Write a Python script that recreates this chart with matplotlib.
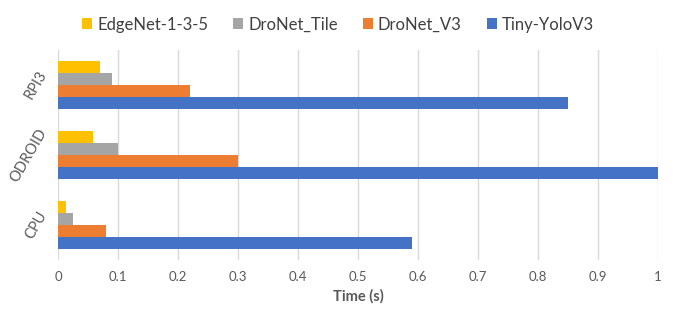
import numpy as np
import matplotlib.pyplot as plt

plt.rcParams['font.family'] = ['Lato', 'DejaVu Sans']

# datos
dispositivos = ['CPU', 'ODROID', 'RPI3']
series = ['EdgeNet-1-3-5', 'DroNet_Tile', 'DroNet_V3', 'Tiny-YoloV3']
edgenet = [0.014, 0.058, 0.07]
dronet_tile = [0.025, 0.10, 0.09]
dronet_v3 = [0.08, 0.30, 0.22]
tiny_yolo = [0.59, 1.0, 0.85]
colores = ['#FFC000', '#A5A5A5', '#ED7D31', '#4472C4']
gris = '#595959'

valores = [edgenet, dronet_tile, dronet_v3, tiny_yolo]

fig = plt.figure(figsize=(6.76, 3.23), dpi=100)
ax = fig.add_axes([58/676, 63/323, 600/676, 210/323])

y = np.arange(len(dispositivos))
h = 12/70
# la primera serie queda arriba dentro de cada grupo
offsets = [1.5*h, 0.5*h, -0.5*h, -1.5*h]
for vals, off, col, nombre in zip(valores, offsets, colores, series):
    ax.barh(y + off, vals, height=h, color=col, label=nombre, zorder=3)

ax.set_xlim(0, 1)
ax.set_ylim(-0.5, 2.5)
ax.set_xticks(np.arange(0, 1.01, 0.1))
ax.set_xticklabels(['0', '0.1', '0.2', '0.3', '0.4', '0.5', '0.6', '0.7', '0.8', '0.9', '1'])
ax.set_yticks(y)
ax.set_yticklabels(dispositivos, rotation=60, va='center', ha='right')
ax.tick_params(axis='both', length=0, colors=gris, labelsize=9.5)
ax.tick_params(axis='y', labelsize=10.5, pad=6)
ax.tick_params(axis='x', pad=8)
ax.grid(axis='x', color='#D9D9D9', linewidth=1, zorder=0)
for s in ax.spines.values():
    s.set_visible(False)

ax.set_xlabel('Time (s)', fontsize=10.5, color=gris, fontweight='bold', labelpad=4)

leg = fig.legend(loc='upper center', bbox_to_anchor=(0.5, 0.995), ncol=4, frameon=False,
                 fontsize=12, handlelength=0.6, handleheight=0.6, handletextpad=0.3,
                 columnspacing=1.5, labelcolor='#404040')

fig.savefig('out.png', dpi=100)
